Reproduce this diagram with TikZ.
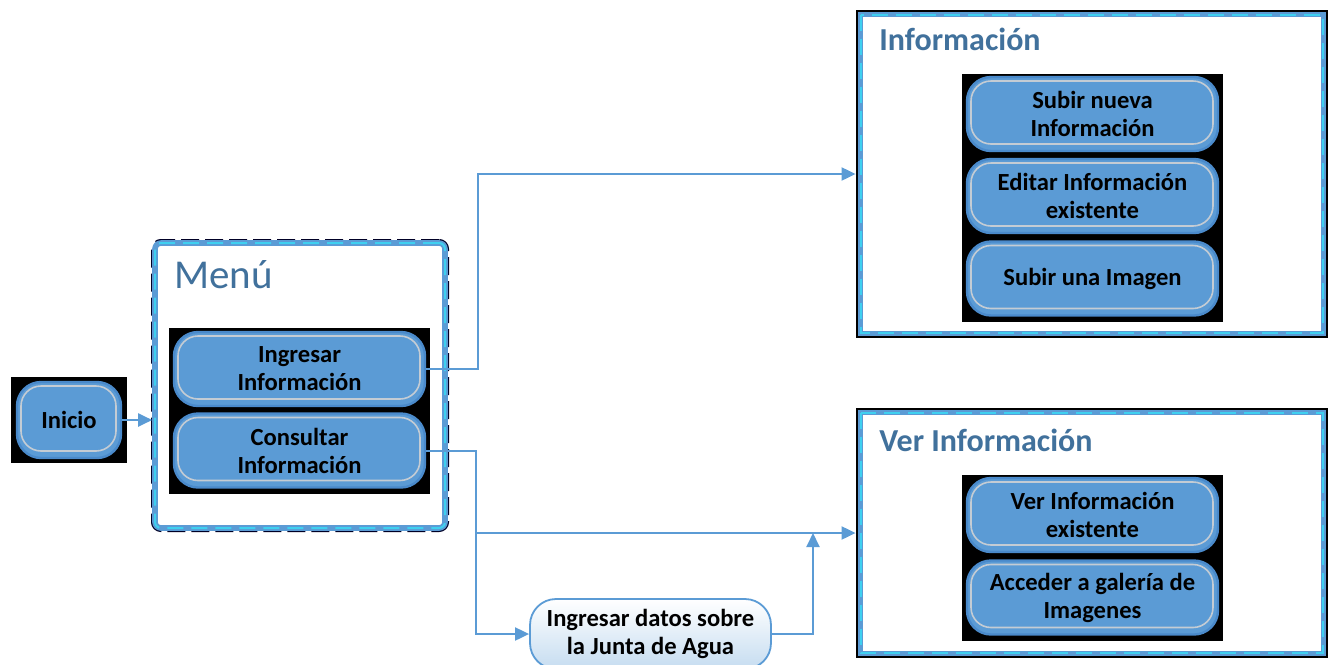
\documentclass[tikz,border=0pt]{standalone}
\usepackage{fontspec}
\setmainfont{Carlito}
\usetikzlibrary{arrows.meta}
\definecolor{azul}{HTML}{5B9BD5}
\definecolor{azulosc}{HTML}{4A8ACB}
\definecolor{titulo}{HTML}{41719C}
\definecolor{cian}{HTML}{3FD0F0}
\definecolor{grisclaro}{HTML}{C4CCD4}
\tikzset{
  boton/.style={fill=azul, draw=azulosc, line width=1.2pt, rounded corners=12pt,
    minimum width=125.5pt, minimum height=37pt, align=center,
    font=\bfseries\fontsize{12.3}{14}\selectfont,
    path picture={\draw[grisclaro, line width=0.8pt, rounded corners=10pt]
      ([shift={(2pt,-2pt)}]path picture bounding box.north west) rectangle
      ([shift={(-2.5pt,3.5pt)}]path picture bounding box.south east);}},
  panel/.style={fill=black, inner sep=0pt},
  marco/.style={draw=azul, line width=2.8pt, fill=white,
    postaction={draw=cian, line width=1pt, dash pattern=on 8pt off 4pt}},
  titulo/.style={anchor=west, text=titulo, inner sep=0pt},
  flecha/.style={draw=azul, line width=1pt, -{Triangle[length=7pt,width=6.5pt]}},
  datos/.style={draw=azul, line width=0.9pt, rounded corners=13pt, top color=white,
    bottom color=azul!35, minimum width=120.5pt, minimum height=35pt, align=center,
    font=\bfseries\fontsize{12.3}{14}\selectfont}
}
\begin{document}
\begin{tikzpicture}[x=0.5pt,y=-0.5pt]
\useasboundingbox (0,0) rectangle (1330,665);
% inicio
\node[panel, minimum width=58pt, minimum height=43pt] (iniciopanel) at (69,420) {};
\node[boton, minimum width=52pt, minimum height=38pt] (inicio) at (69,420) {Inicio};
% menu
\node[marco, rounded corners=3pt, minimum width=145pt, minimum height=142.5pt,
  preaction={draw=black!85!blue, line width=4pt, dash pattern=on 9pt off 3pt}] (menuframe) at (300,385.5) {};
\node[titulo, font=\fontsize{20.5}{24}\selectfont] (menutitulo) at (174,275) {Menú};
\node[panel, minimum width=130.5pt, minimum height=83pt] (menupanel) at (299.5,411) {};
\node[boton] (ingresar) at (299.5,369) {Ingresar\\Información};
\node[boton] (consultar) at (299.5,450.5) {Consultar\\Información};
% informacion
\node[panel, minimum width=236pt, minimum height=164pt] (infoframe) at (1092,174) {};
\draw[marco] ([shift={(5,5)}]infoframe.north west) rectangle ([shift={(-5,-5)}]infoframe.south east);
\node[titulo, font=\bfseries\fontsize{16}{19}\selectfont] (infotitulo) at (879,39) {Información};
\node[panel, minimum width=130.5pt, minimum height=124pt] (infopanel) at (1092.5,198) {};
\node[boton] (subir) at (1092.5,114) {Subir nueva\\Información};
\node[boton] (editar) at (1092.5,196) {Editar Información\\existente};
\node[boton] (imagen) at (1092.5,278.5) {Subir una Imagen};
% ver informacion
\node[panel, minimum width=236pt, minimum height=125pt] (verframe) at (1092,533) {};
\draw[marco] ([shift={(5,5)}]verframe.north west) rectangle ([shift={(-5,-5)}]verframe.south east);
\node[titulo, font=\bfseries\fontsize{16}{19}\selectfont] (vertitulo) at (879,440) {Ver Información};
\node[panel, minimum width=130.5pt, minimum height=83pt] (verpanel) at (1092.5,558) {};
\node[boton] (existente) at (1092.5,515) {Ver Información\\existente};
\node[boton] (galeria) at (1092.5,597.5) {Acceder a galería de\\Imagenes};
% junta de agua
\node[datos] (junta) at (650.5,634) {Ingresar datos sobre\\la Junta de Agua};
\coordinate (union) at (813,533);
\draw[flecha] (inicio.east) -- (menuframe.west |- inicio.east);
\draw[flecha] (ingresar.east) -- ++(52,0) |- (infoframe.west);
\draw[flecha] (consultar.east) -- ++(50,0) coordinate (rama) |- (verframe.west);
\draw[flecha] (rama) |- (junta.west);
\draw[flecha] (junta.east) -| (union);
\end{tikzpicture}
\end{document}
